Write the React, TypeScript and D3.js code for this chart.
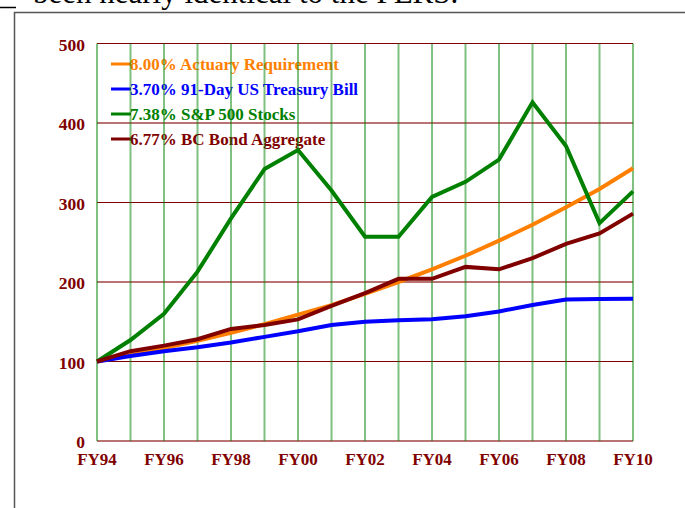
import React from "react";
import * as d3 from "d3";

const years = ["FY94","FY95","FY96","FY97","FY98","FY99","FY00","FY01","FY02","FY03","FY04","FY05","FY06","FY07","FY08","FY09","FY10"];
const xTickLabels = ["FY94","FY96","FY98","FY00","FY02","FY04","FY06","FY08","FY10"];
const yTicks = [0, 100, 200, 300, 400, 500];

const actuary = [100,108,117,126,136,147,159,171,185,200,216,233,252,272,294,317,343];
const tbill = [100,107,113,118,124,131,138,146,150,152,153,157,163,171,178,178.5,179];
const sp500 = [100,127,160,213,280,342,366,315,257,257,307,326,354,426,371,274,314];
const bcBond = [100,113,120,128,141,146,153,170,186,204,204,219,216,230,248,261,286];

const seriesNames = ["8.00% Actuary Requirement","3.70% 91-Day US Treasury Bill","7.38% S&P 500 Stocks","6.77% BC Bond Aggregate"];
const seriesColors = ["#FF8000","#0000FF","#008000","#800000"];
const seriesData = [actuary, tbill, sp500, bcBond];

export default function App() {
  const W = 685, H = 508;
  const x = d3.scaleLinear().domain([0, years.length - 1]).range([97, 633]);
  const y = d3.scaleLinear().domain([0, 500]).range([441, 43.5]);
  const line = d3.line<number>().x((_, i) => x(i)).y(d => y(d));
  const font = "'Liberation Serif', 'Times New Roman', serif";
  const maroon = "#800000";

  return (
    <svg width={W} height={H} style={{ position: "fixed", left: 0, top: 0, background: "#fff" }} fontFamily={font}>
      <rect x={0} y={0} width={W} height={H} fill="#fff" />
      {/* top slide text, cut off as in the source */}
      <text x={33} y={3} fontSize={31} fill="#000">been nearly identical to the PERS.</text>
      <line x1={0} y1={7.5} x2={16} y2={7.5} stroke="#000" strokeWidth={1.5} />
      {/* frame */}
      <path d={`M14.5,${H} V12.5 H${W}`} fill="none" stroke="#555" strokeWidth={1.5} />

      {/* legend */}
      {seriesNames.map((n, i) => (
        <g key={n}>
          <line x1={111} x2={131} y1={64 + 25 * i} y2={64 + 25 * i} stroke={seriesColors[i]} strokeWidth={3} />
          <text x={130} y={70 + 25 * i} fontSize={17} fontWeight="bold" fill={seriesColors[i]}>{n}</text>
        </g>
      ))}

      {/* horizontal grid */}
      {yTicks.map(t => (
        <line key={"h" + t} x1={x(0)} x2={x(16)} y1={y(t)} y2={y(t)}
          stroke={maroon} strokeWidth={t % 200 === 0 ? 2 : 1} strokeOpacity={t % 200 === 0 ? 0.55 : 1} />
      ))}
      {/* vertical grid */}
      {years.map((yr, i) => (
        <line key={yr} x1={x(i)} x2={x(i)} y1={y(500)} y2={y(0)}
          stroke="#008000" strokeWidth={i % 2 === 1 ? 2 : 1} strokeOpacity={i % 2 === 1 ? 0.5 : 1} />
      ))}

      {/* series */}
      {seriesData.map((d, i) => (
        <path key={i} d={line(d) || ""} fill="none" stroke={seriesColors[i]} strokeWidth={4} strokeLinejoin="miter" />
      ))}

      {/* y labels */}
      {yTicks.map(t => (
        <text key={"yl" + t} x={85} y={y(t) + 7} textAnchor="end" fontSize={17.5} fontWeight="bold" fill={maroon}>{t}</text>
      ))}
      {/* x labels */}
      {xTickLabels.map(l => (
        <text key={l} x={x(years.indexOf(l))} y={465} textAnchor="middle" fontSize={17} fontWeight="bold" fill={maroon}>{l}</text>
      ))}
    </svg>
  );
}
